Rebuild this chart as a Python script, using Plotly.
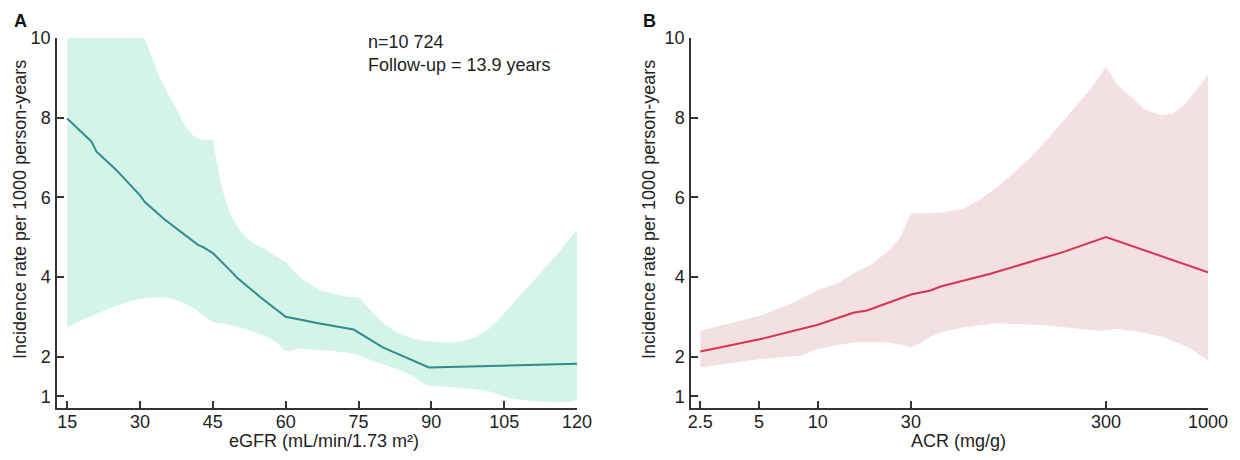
import plotly.graph_objects as go
from plotly.subplots import make_subplots

# ---------------- Panel A: eGFR ----------------
egfr_line_x = [15, 20, 21, 25, 30, 31, 35, 38, 42, 43, 45, 48.6, 50, 55, 60, 67, 74, 80, 89.5, 120]
egfr_line_y = [7.98, 7.4, 7.15, 6.7, 6.05, 5.88, 5.45, 5.17, 4.8, 4.75, 4.6, 4.16, 3.98, 3.47, 3.0, 2.83, 2.68, 2.23, 1.73, 1.82]

egfr_upper_x = [15, 30.6, 31.5, 32.5, 33.5, 34.5, 35.6, 36.6, 37.6, 38.6, 39.7, 41, 42.4, 45, 45.3, 45.8, 46.5, 47.3, 48.2, 49.2, 50.6, 52, 53.5, 55.4, 57.5, 60, 61, 63, 67, 72, 75.3, 77.5, 80, 82.8, 85.6, 88.5, 91.8, 94.5, 97.4, 99.5, 101.5, 104, 106.8, 109.5, 112.4, 116, 120]
egfr_upper_y = [10, 10, 9.82, 9.5, 9.15, 8.9, 8.64, 8.42, 8.2, 7.94, 7.72, 7.55, 7.45, 7.43, 7.25, 6.9, 6.45, 6.05, 5.72, 5.45, 5.17, 4.98, 4.84, 4.72, 4.55, 4.38, 4.25, 3.98, 3.68, 3.52, 3.46, 3.15, 2.85, 2.62, 2.48, 2.4, 2.36, 2.36, 2.42, 2.52, 2.66, 2.95, 3.33, 3.7, 4.09, 4.58, 5.15]

egfr_lower_x = [15, 18, 21.8, 25, 28.6, 31, 33.5, 36, 38.3, 40.5, 42.4, 44, 45, 47, 49.2, 53, 56.2, 58.5, 60, 63, 68, 74, 79, 83.6, 86.5, 89, 94.5, 101.5, 105, 107.6, 120]
egfr_lower_y = [2.74, 2.92, 3.11, 3.27, 3.41, 3.47, 3.49, 3.47, 3.38, 3.26, 3.11, 2.95, 2.86, 2.83, 2.78, 2.64, 2.49, 2.32, 2.15, 2.2, 2.16, 2.07, 1.85, 1.65, 1.48, 1.29, 1.23, 1.14, 1.0, 0.93, 0.93]

egfr_ticks = [15, 30, 45, 60, 75, 90, 105, 120]

# ---------------- Panel B: ACR ----------------
acr_line_x = [2.5, 5.1, 10, 15.2, 17.9, 30, 37.8, 42.6, 76.7, 182, 300, 1000]
acr_line_y = [2.13, 2.44, 2.80, 3.10, 3.16, 3.56, 3.66, 3.76, 4.08, 4.63, 5.0, 4.12]

acr_upper_x = [2.5, 5.1, 7.5, 9.9, 12.5, 15.2, 19, 23.2, 26.5, 29.5, 30.5, 37.8, 45, 55.8, 68, 83.4, 100, 124, 150, 182, 215, 247, 275, 300, 340, 401, 470, 568, 662, 750, 843, 1000]
acr_upper_y = [2.65, 3.03, 3.35, 3.66, 3.83, 4.08, 4.33, 4.67, 5.0, 5.52, 5.6, 5.6, 5.63, 5.72, 5.95, 6.26, 6.6, 7.01, 7.45, 7.94, 8.35, 8.69, 9.0, 9.28, 8.85, 8.52, 8.22, 8.06, 8.1, 8.3, 8.6, 9.07]

acr_lower_x = [2.5, 5.1, 8.3, 10, 15.2, 22.3, 27, 30, 34, 37.8, 42.6, 55.8, 83.4, 150, 270, 340, 450, 590, 800, 1000]
acr_lower_y = [1.73, 1.94, 2.03, 2.19, 2.36, 2.36, 2.3, 2.23, 2.36, 2.49, 2.61, 2.74, 2.84, 2.78, 2.65, 2.70, 2.62, 2.49, 2.22, 1.9]

acr_ticks = [2.5, 5, 10, 30, 300, 1000]
acr_ticktext = ["2.5", "5", "10", "30", "300", "1000"]

y_ticks = [1, 2, 4, 6, 8, 10]

Y_TITLE = "Incidence rate per 1000 person-years"
X_TITLE_A = "eGFR (mL/min/1.73 m²)"
X_TITLE_B = "ACR (mg/g)"

FONT = "Liberation Sans, Arial, Helvetica, sans-serif"
AXIS_COL = "#333333"
TEXT_COL = "#222222"
FS = 18

W, H = 1240, 460
OFF = 8  # default page body margin in the browser


def px_x(p):
    return (p - OFF) / W


def px_y(p):
    return 1 - (p - OFF) / H


fig = make_subplots(rows=1, cols=2)

# Panel A band
fig.add_trace(go.Scatter(
    x=egfr_upper_x + egfr_lower_x[::-1],
    y=egfr_upper_y + egfr_lower_y[::-1],
    fill="toself", fillcolor="#d3f4e6", line=dict(width=0, shape="spline", smoothing=0.5),
    mode="lines", hoverinfo="skip", showlegend=False), row=1, col=1)
fig.add_trace(go.Scatter(
    x=egfr_line_x, y=egfr_line_y, mode="lines",
    line=dict(color="#2f8c8e", width=2), showlegend=False), row=1, col=1)

# Panel B band
fig.add_trace(go.Scatter(
    x=acr_upper_x + acr_lower_x[::-1],
    y=acr_upper_y + acr_lower_y[::-1],
    fill="toself", fillcolor="#f3e0e2", line=dict(width=0),
    mode="lines", hoverinfo="skip", showlegend=False), row=1, col=2)
fig.add_trace(go.Scatter(
    x=acr_line_x, y=acr_line_y, mode="lines",
    line=dict(color="#d9344f", width=2), showlegend=False), row=1, col=2)

y_dom = [px_y(408), px_y(38)]

common_axis = dict(
    showline=True, linecolor=AXIS_COL, linewidth=1.5,
    ticks="inside", ticklen=7, tickwidth=1.5, tickcolor=AXIS_COL,
    showgrid=False, zeroline=False, automargin=False,
    tickfont=dict(family=FONT, size=FS, color=TEXT_COL),
)

fig.update_xaxes(**common_axis, ticklabelstandoff=-3)
fig.update_yaxes(**common_axis, ticklabelstandoff=1)

fig.update_layout(
    width=W, height=H,
    margin=dict(l=0, r=0, t=0, b=0, autoexpand=False),
    paper_bgcolor="white", plot_bgcolor="white",
    font=dict(family=FONT, size=FS, color=TEXT_COL),
    xaxis=dict(domain=[px_x(57), px_x(577)], range=[12.9, 120], tickvals=egfr_ticks),
    xaxis2=dict(domain=[px_x(691), px_x(1208)], type="log", range=[0.35, 3.0],
                tickvals=acr_ticks, ticktext=acr_ticktext),
    yaxis=dict(domain=y_dom, range=[0.71, 10], tickvals=y_ticks),
    yaxis2=dict(domain=y_dom, range=[0.71, 10], tickvals=y_ticks),
)


def txt(text, x, y, xanchor="center", yanchor="middle", angle=0, size=FS, color=TEXT_COL, align="center"):
    fig.add_annotation(text=text, xref="paper", yref="paper", x=px_x(x), y=px_y(y),
                       xanchor=xanchor, yanchor=yanchor, textangle=angle, align=align,
                       showarrow=False, font=dict(size=size, family=FONT, color=color))


# axis titles
txt(Y_TITLE, 20, 210, angle=-90)
txt(Y_TITLE, 649, 210, angle=-90)
txt(X_TITLE_A, 324, 441)
txt(X_TITLE_B, 958, 441)

# panel letters and info
txt("<b>A</b>", 12, 9, xanchor="left", yanchor="top", size=18, color="#111")
txt("<b>B</b>", 641, 9, xanchor="left", yanchor="top", size=18, color="#111")
txt("n=10 724<br>Follow-up = 13.9 years", 366, 30, xanchor="left", yanchor="top", align="left")

fig.write_html("out.html")
